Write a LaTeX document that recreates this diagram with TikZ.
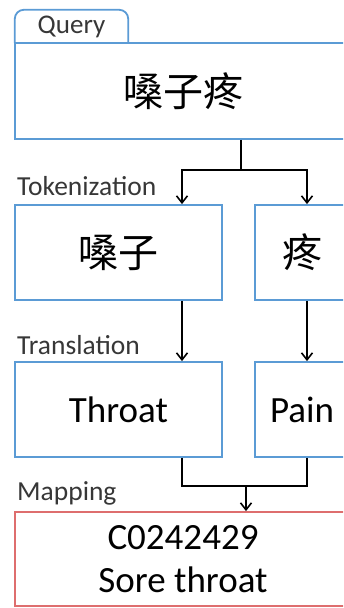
\documentclass[tikz,border=0pt]{standalone}
\usepackage{fontspec}
\setmainfont{Carlito}
\newfontfamily\cjk{Noto Sans CJK SC}
\usetikzlibrary{arrows.meta}
\definecolor{boxblue}{RGB}{91,155,213}
\definecolor{boxred}{RGB}{222,110,110}
\definecolor{labelgray}{RGB}{55,55,55}

\begin{document}
\begin{tikzpicture}[x=1pt, y=-1pt,
		stage/.style={draw=boxblue, line width=1.8pt, inner sep=0pt, font=\fontsize{37}{40}\selectfont},
		steplabel/.style={anchor=west, inner sep=0pt, text=labelgray, font=\fontsize{27.5}{30}\selectfont},
		arr/.style={-{Straight Barb[length=7pt,width=11pt,line width=1.6pt]}, line width=1.8pt}]
		\clip (0,0) rectangle (343,608);
		\node[stage, minimum width=336pt, minimum height=96pt, font=\cjk\fontsize{40}{44}\selectfont] (query) at (183,91) {嗓子疼};
		\node[inner sep=0pt, minimum width=113pt, minimum height=33pt, text=labelgray, font=\fontsize{27}{30}\selectfont] (tab) at (71.5,26.5) {Query};
		\draw[boxblue, line width=1.8pt, rounded corners=9pt] (tab.south west) -- (tab.north west) -- (tab.north east) -- (tab.south east);
		\node[steplabel] (toklabel) at (17,186) {Tokenization};
		\node[stage, minimum width=207pt, minimum height=95pt, font=\cjk\fontsize{40}{44}\selectfont] (tok1) at (118.5,252.5) {嗓子};
		\node[stage, minimum width=94pt, minimum height=95pt, font=\cjk\fontsize{40}{44}\selectfont] (tok2) at (302,252.5) {疼};
		\node[steplabel] (trlabel) at (17,345) {Translation};
		\node[stage, minimum width=207pt, minimum height=95pt] (tr1) at (118.5,409.5) {Throat};
		\node[stage, minimum width=94pt, minimum height=95pt] (tr2) at (302,409.5) {Pain};
		\node[steplabel] (maplabel) at (17,493) {Mapping};
		\node[stage, draw=boxred, minimum width=336pt, minimum height=94pt, align=center, font=\fontsize{37}{43}\selectfont] (map) at (183,559) {C0242429\\Sore throat};
		\coordinate (split) at (241,170);
		\coordinate (left) at (182,170);
		\coordinate (right) at (307,170);
		\coordinate (join) at (246,486);
		\draw[line width=1.8pt] (query.south -| split) -- (split);
		\draw[arr] (split) -- (left) -- (left |- tok1.north);
		\draw[arr] (split) -- (right) -- (right |- tok2.north);
		\draw[arr] (left |- tok1.south) -- (left |- tr1.north);
		\draw[arr] (right |- tok2.south) -- (right |- tr2.north);
		\draw[line width=1.8pt] (left |- tr1.south) |- (join);
		\draw[line width=1.8pt] (right |- tr2.south) |- (join);
		\draw[arr] (join) -- (join |- map.north);
	\end{tikzpicture}
\end{document}
